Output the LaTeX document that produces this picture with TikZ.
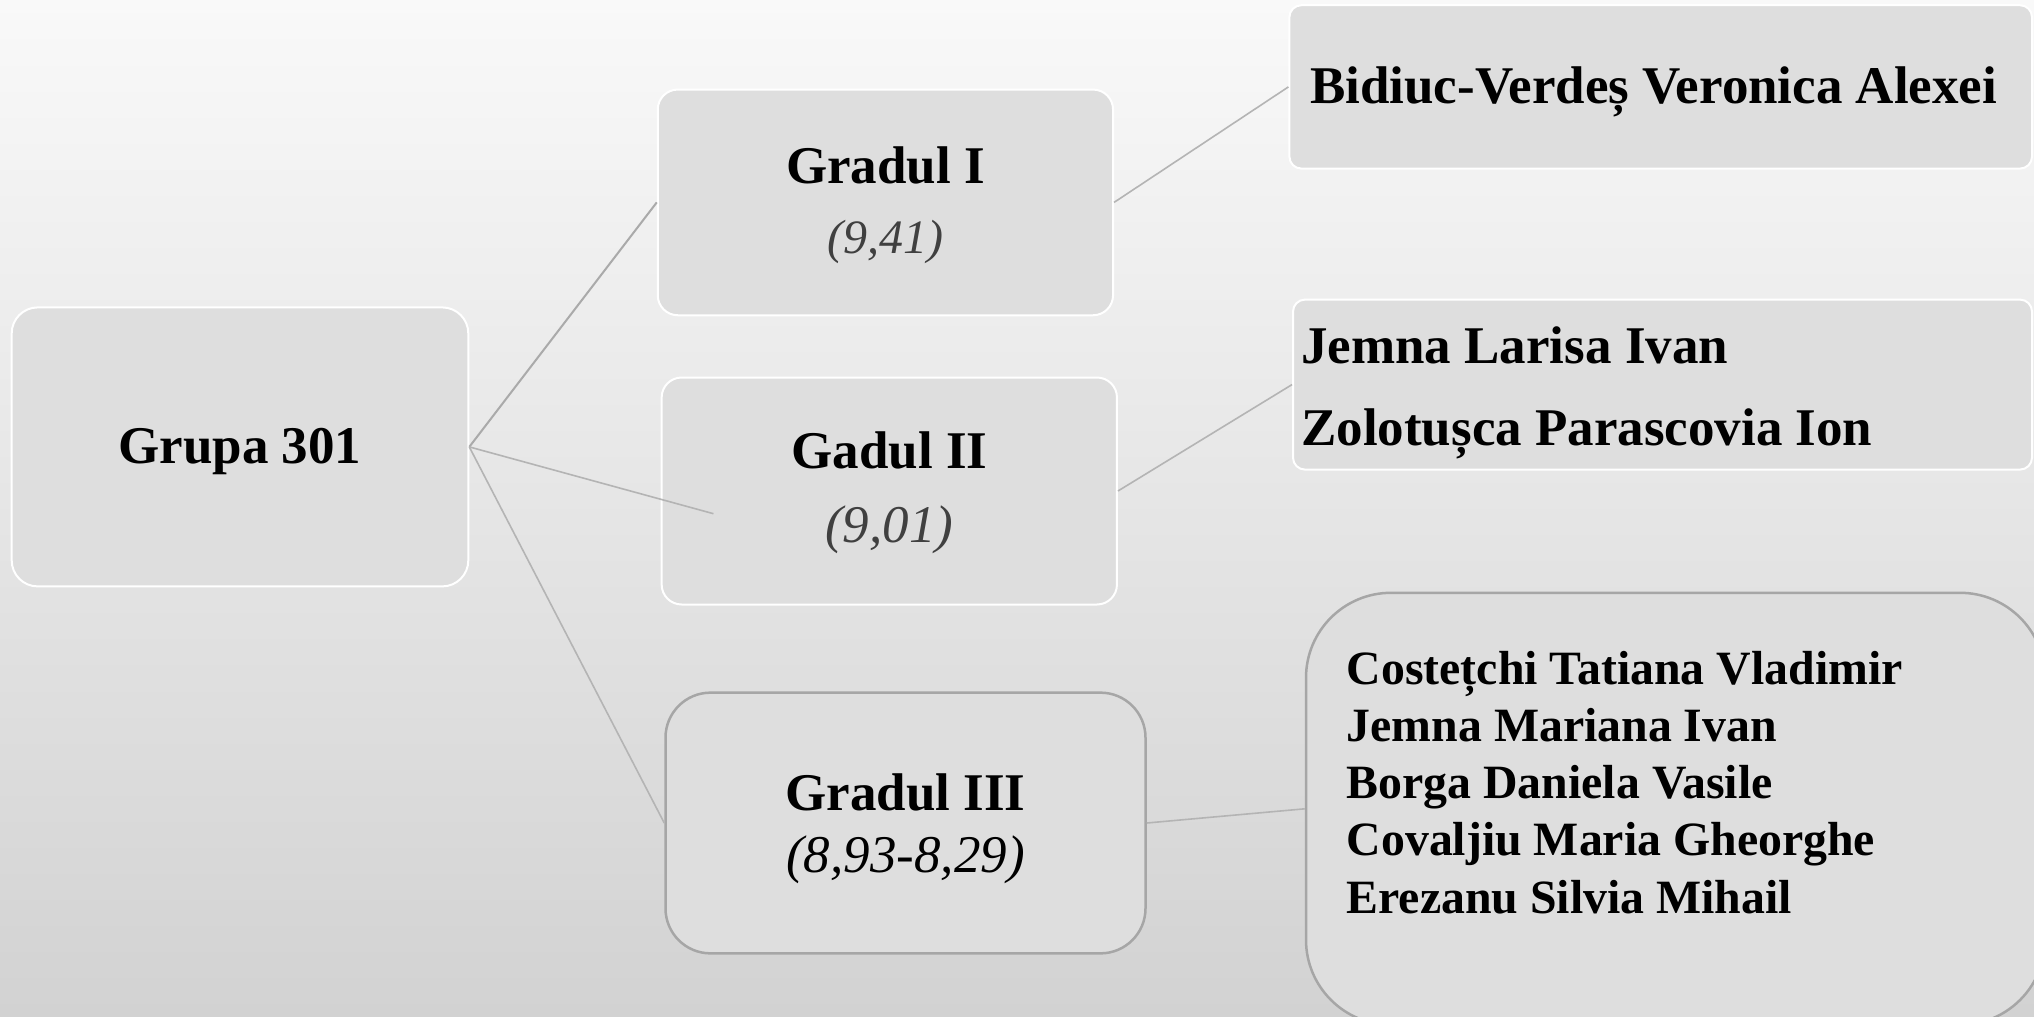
\documentclass[tikz,border=0pt]{standalone}
\usepackage{fontspec}
\setmainfont{Liberation Serif}
\definecolor{bgtop}{HTML}{F9F9F9}
\definecolor{bgmid}{HTML}{EEEEEE}
\definecolor{bgbot}{HTML}{D2D2D2}
\definecolor{boxfill}{HTML}{DEDEDE}
\definecolor{grayline}{HTML}{A6A6A6}
\definecolor{conn}{HTML}{B4B4B4}
\definecolor{numgray}{HTML}{404040}
\tikzset{
  box/.style={rectangle, fill=boxfill, draw=white, line width=2pt, inner sep=0pt, rounded corners=#1},
  box/.default=20pt,
  gbox/.style={box=#1, draw=grayline, line width=2.5pt},
  gbox/.default=45pt,
  ttl/.style={font=\fontsize{53}{53}\selectfont\bfseries, inner sep=0pt, anchor=base},
  num/.style={font=\fontsize{53}{53}\selectfont\itshape, text=numgray, inner sep=0pt, anchor=base},
  nm/.style={font=\fontsize{53}{53}\selectfont\bfseries, inner sep=0pt, anchor=base west},
  nms/.style={font=\fontsize{47.8}{47.8}\selectfont\bfseries, inner sep=0pt, anchor=base west},
  link/.style={draw=conn, line width=1.6pt}
}
\begin{document}
\begin{tikzpicture}[x=1pt,y=-1pt]
\useasboundingbox (0,0) rectangle (2034,1017);
\shade[top color=bgtop, middle color=bgmid, bottom color=bgbot] (0,0) rectangle (2034,1017);

% boxes
\node[box=26pt, minimum width=456.6pt, minimum height=279pt] (grupa) at (240,446.9) {};
\node[box, minimum width=455.3pt, minimum height=225.7pt] (g1) at (885.4,202.4) {};
\node[box, minimum width=455.3pt, minimum height=227pt] (g2) at (889.3,491) {};
\node[gbox, minimum width=480pt, minimum height=260.7pt] (g3) at (905.5,823) {};
\node[box=12pt, minimum width=742.6pt, minimum height=163.4pt] (n1) at (1660.7,86.9) {};
\node[box=12pt, minimum width=739pt, minimum height=170pt] (n2) at (1662.5,384.6) {};
\node[gbox=85pt, minimum width=739pt, minimum height=432pt] (n3) at (1675.5,808.8) {};

% connectors
\coordinate (c2) at (713.5,513.7);
\draw[link, draw=grayline!95, line width=2pt] (grupa.east) -- (g1.west);
\draw[link] (grupa.east) -- (c2);
\draw[link] (grupa.east) -- (g3.west);
\draw[link] (g1.east) -- (n1.west);
\draw[link] (g2.east) -- (n2.west);
\draw[link] (g3.east) -- (n3.west);

% texts
\node[ttl] (tgrupa) at (240,463.5) {Grupa 301};
\node[ttl] (tg1) at (885.4,183.5) {Gradul I};
\node[num, font=\fontsize{48}{48}\selectfont\itshape] (vg1) at (885.4,253) {(9,41)};
\node[ttl] (tg2) at (889.3,468.5) {Gadul II};
\node[num] (vg2) at (889.3,542) {(9,01)};
\node[ttl] (tg3) at (905.5,810) {Gradul III};
\node[num, text=black] (vg3) at (905.5,872) {(8,93-8,29)};

\node[nm] (p1) at (1310,103) {Bidiuc-Verdeș Veronica Alexei};
\node[nm] (p2) at (1301,363.5) {Jemna Larisa Ivan};
\node[nm] (p3) at (1301,445.5) {Zolotușca Parascovia Ion};
\node[nms] (p4) at (1346.5,684) {Costețchi Tatiana Vladimir};
\node[nms] (p5) at (1346.5,741) {Jemna Mariana Ivan};
\node[nms] (p6) at (1346.5,798) {Borga Daniela Vasile};
\node[nms] (p7) at (1346.5,855) {Covaljiu Maria Gheorghe};
\node[nms] (p8) at (1346.5,913) {Erezanu Silvia Mihail};
\end{tikzpicture}
\end{document}
